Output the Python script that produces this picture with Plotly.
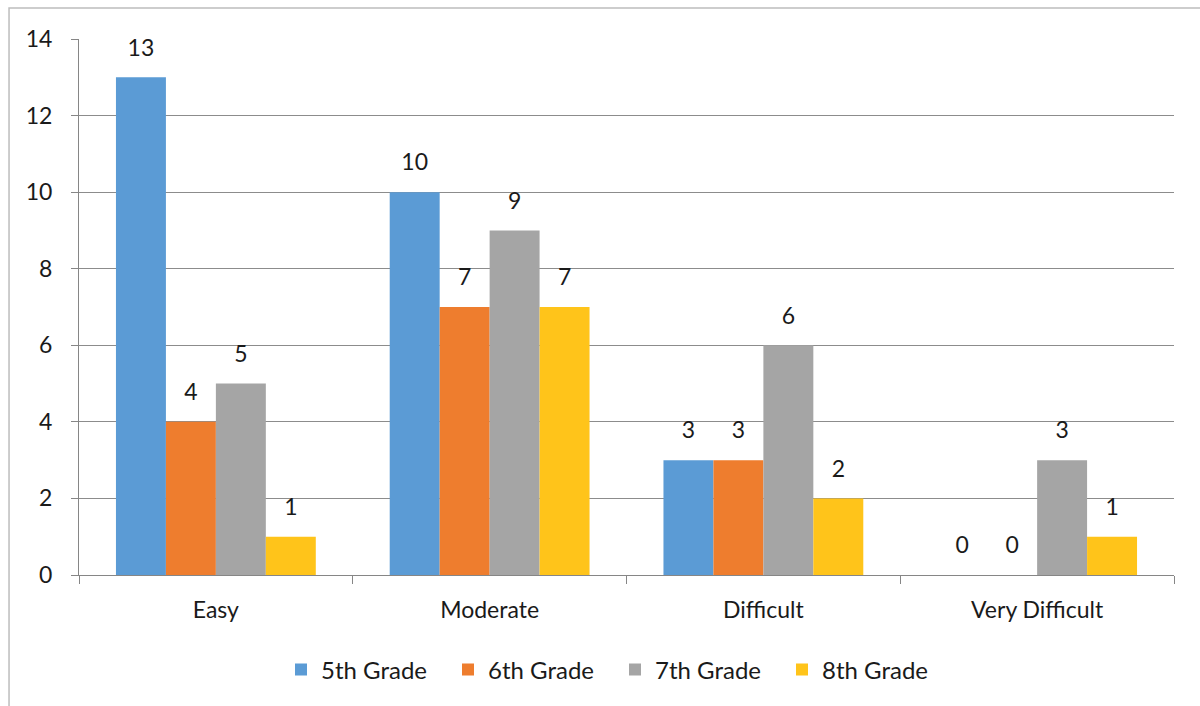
import plotly.graph_objects as go

categories = ["Easy", "Moderate", "Difficult", "Very Difficult"]
series_names = ["5th Grade", "6th Grade", "7th Grade", "8th Grade"]
grade5 = [13, 10, 3, 0]
grade6 = [4, 7, 3, 0]
grade7 = [5, 9, 6, 3]
grade8 = [1, 7, 2, 1]
values = [grade5, grade6, grade7, grade8]
colors = ["#5B9BD5", "#EE7D2E", "#A5A5A5", "#FFC41A"]
y_ticks = [0, 2, 4, 6, 8, 10, 12, 14]

FONT = "Lato, 'Open Sans', sans-serif"
fig = go.Figure()
for name, vals, col in zip(series_names, values, colors):
    fig.add_trace(go.Bar(
        x=categories, y=vals, name=name, offsetgroup=name,
        marker=dict(color=col, line=dict(width=0)),
    ))
for name, vals in zip(series_names, values):
    fig.add_trace(go.Scatter(
        x=categories, y=vals, offsetgroup=name, mode="markers+text",
        text=[str(v) for v in vals], textposition="top center",
        marker=dict(size=24, opacity=0), showlegend=False, hoverinfo="skip",
        textfont=dict(size=23, color="#1a1a1a", family=FONT),
    ))

fig.update_layout(
    width=1200, height=706,
    margin=dict(l=79, r=26, t=39, b=131),
    paper_bgcolor="white", plot_bgcolor="white",
    barmode="group", bargap=0.27, bargroupgap=0,
    scattermode="group", scattergap=0.27,
    font=dict(family=FONT, size=23, color="#1a1a1a"),
    legend=dict(orientation="h", x=0.4895, xanchor="center", y=-0.177, yanchor="middle",
                font=dict(size=24), entrywidth=122, itemwidth=30),
    xaxis=dict(showline=True, linecolor="#868686", linewidth=1, ticks="outside",
               tickson="boundaries", ticklen=8, tickcolor="#868686",
               tickfont=dict(size=23), showgrid=False, ticklabelstandoff=14),
    yaxis=dict(range=[0, 14], tickvals=y_ticks, showline=True, linecolor="#868686",
               linewidth=1, ticks="outside", ticklen=7, tickcolor="#868686",
               gridcolor="#8C8C8C", gridwidth=1, tickfont=dict(size=23),
               zeroline=False, ticklabelstandoff=14),
    shapes=[dict(type="rect", xref="paper", yref="paper",
                 x0=-0.0639, x1=1.04, y0=-0.3, y1=1.0578,
                 line=dict(color="#BDBDBD", width=1.5), layer="below")],
)
fig.write_html("out.html")
